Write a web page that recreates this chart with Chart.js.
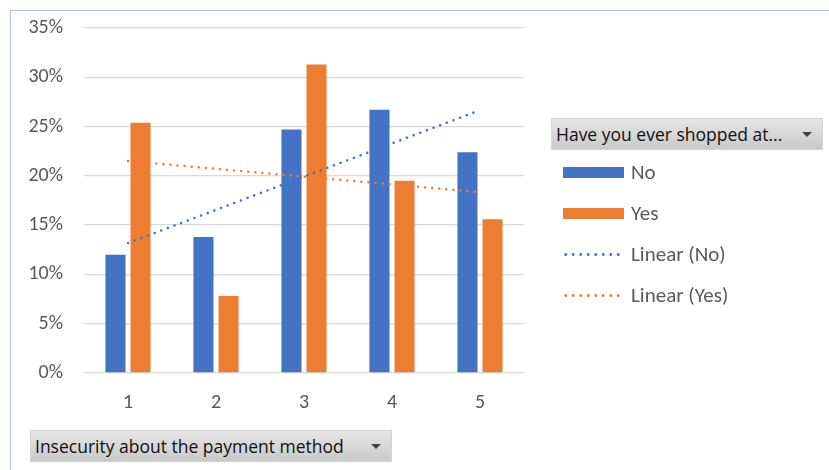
<!DOCTYPE html>
<html>
<head>
<meta charset="utf-8">
<script src="https://cdn.jsdelivr.net/npm/chart.js@4/dist/chart.umd.min.js"></script>
<style>
  html, body { margin: 0; padding: 0; background: #fff; }
  #wrap { position: relative; width: 829px; height: 470px; overflow: hidden; }
  #frame {
    position: absolute; left: 10px; top: 10px; right: -2px; bottom: -2px;
    border-top: 1px solid #B4C7E7; border-left: 1px solid #B4C7E7;
  }
  canvas { position: absolute; left: 0; top: 0; }
  .field {
    position: absolute; box-sizing: border-box; height: 32px;
    background: linear-gradient(#E6E6E6, #C9C9C9);
    border: 1px solid #D4D4D4;
    font: 17.5px "Segoe UI", "Open Sans", "Noto Sans", sans-serif;
    color: #111; line-height: 30px; padding-left: 4px; white-space: nowrap;
  }
  .field .arrow {
    position: absolute; right: 10px; top: 13px; width: 0; height: 0;
    border-left: 5px solid transparent; border-right: 5px solid transparent;
    border-top: 5px solid #404040;
  }
  #legend { position: absolute; left: 562px; top: 156px; }
  .item { position: relative; height: 41px; font: 21px Carlito, Calibri, Lato, sans-serif; color: #595959; white-space: nowrap; }
  .item .sw { position: absolute; left: 1px; top: 11px; width: 61px; height: 11px; }
  .item .ln { position: absolute; left: 0; top: 15px; width: 60px; height: 3px; }
  .item span { position: absolute; left: 69px; top: 3px; }
</style>
</head>
<body>
<div id="wrap">
  <div id="frame"></div>
  <canvas id="chart" width="829" height="470"></canvas>
  <div class="field" style="left:551px; top:118px; width:272px;">Have you ever shopped at...<div class="arrow"></div></div>
  <div id="legend"></div>
  <div class="field" style="left:30px; top:430px; width:362px;">Insecurity about the payment method<div class="arrow"></div></div>
</div>
<script>
  // Share of respondents (%) per insecurity level, split by whether they shopped
  const categories = ["1", "2", "3", "4", "5"];
  const seriesNames = ["No", "Yes"];
  const noValues  = [12.0, 13.8, 24.7, 26.7, 22.4];
  const yesValues = [25.4, 7.8, 31.3, 19.5, 15.6];
  const yTicks = [0, 5, 10, 15, 20, 25, 30, 35];

  const BLUE = "#4472C4";
  const ORANGE = "#ED7D31";
  const TICK_FONT = { family: "Carlito, Calibri, Lato, sans-serif", size: 20 };

  // least-squares trend over category index 1..n
  function linearTrend(values) {
    const n = values.length;
    const xs = values.map((_, i) => i + 1);
    const mx = xs.reduce((a, b) => a + b, 0) / n;
    const my = values.reduce((a, b) => a + b, 0) / n;
    let num = 0, den = 0;
    xs.forEach((x, i) => { num += (x - mx) * (values[i] - my); den += (x - mx) * (x - mx); });
    const slope = num / den;
    return xs.map(x => my + slope * (x - mx));
  }

  // fixed axis boxes so the plot area lands where it should
  function fixBox(s, size) {
    if (s.isHorizontal()) s.height = size; else s.width = size;
    s.paddingTop = s.paddingBottom = s.paddingLeft = s.paddingRight = 0;
  }

  const barStyle = { categoryPercentage: 0.57, barPercentage: 0.8, borderWidth: 0 };
  const trendStyle = {
    type: "line", borderWidth: 2.5, borderDash: [0.1, 7], borderCapStyle: "round",
    pointRadius: 0, fill: false, tension: 0
  };

  new Chart(document.getElementById("chart"), {
    type: "bar",
    data: {
      labels: categories,
      datasets: [
        Object.assign({ label: "Linear (No)", data: linearTrend(noValues), borderColor: BLUE, order: 0 }, trendStyle),
        Object.assign({ label: "Linear (Yes)", data: linearTrend(yesValues), borderColor: ORANGE, order: 0 }, trendStyle),
        Object.assign({ label: seriesNames[0], data: noValues, backgroundColor: BLUE, order: 1 }, barStyle),
        Object.assign({ label: seriesNames[1], data: yesValues, backgroundColor: ORANGE, order: 1 }, barStyle)
      ]
    },
    options: {
      responsive: false,
      animation: false,
      layout: { padding: { left: 0, right: 305, top: 28, bottom: 0 } },
      plugins: { legend: { display: false }, tooltip: { enabled: false } },
      scales: {
        x: {
          grid: { display: false, drawTicks: false },
          border: { display: false },
          ticks: { color: "#595959", padding: 18, font: TICK_FONT },
          afterFit: s => fixBox(s, 97)
        },
        y: {
          min: 0, max: 35,
          afterBuildTicks: s => { s.ticks = yTicks.map(v => ({ value: v })); },
          grid: { color: "#D9D9D9", lineWidth: 1.3, drawTicks: false },
          border: { display: false },
          ticks: {
            color: "#595959", padding: 21, font: TICK_FONT,
            callback: v => v + "%"
          },
          afterFit: s => fixBox(s, 84)
        }
      }
    }
  });

  // legend entries on the right, same order as the pivot legend
  const legendItems = [
    { name: seriesNames[0], color: BLUE, kind: "bar" },
    { name: seriesNames[1], color: ORANGE, kind: "bar" },
    { name: "Linear (No)", color: BLUE, kind: "line" },
    { name: "Linear (Yes)", color: ORANGE, kind: "line" }
  ];
  const legendEl = document.getElementById("legend");
  legendItems.forEach(it => {
    const row = document.createElement("div");
    row.className = "item";
    const mark = document.createElement("div");
    if (it.kind === "bar") {
      mark.className = "sw";
      mark.style.background = it.color;
    } else {
      mark.className = "ln";
      mark.style.background = `radial-gradient(circle, ${it.color} 1.2px, transparent 1.6px) 0 0 / 7.5px 3px repeat-x`;
    }
    const label = document.createElement("span");
    label.textContent = it.name;
    row.appendChild(mark);
    row.appendChild(label);
    legendEl.appendChild(row);
  });
</script>
</body>
</html>
